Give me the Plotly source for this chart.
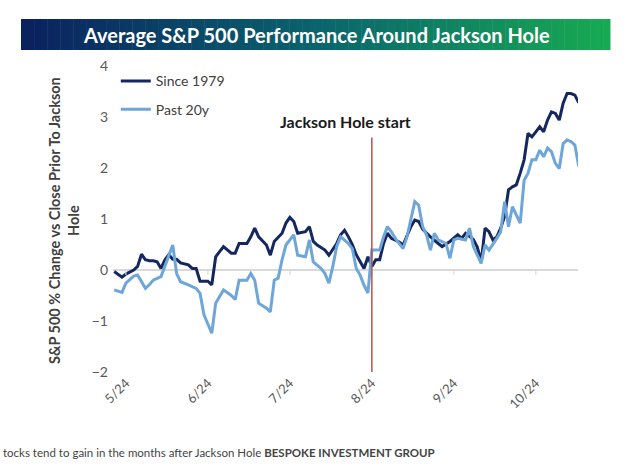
import plotly.graph_objects as go

# ---- data (trading days relative to Jackson Hole start, % change) ----
since1979_days = [-66, -64, -63, -61, -60, -59, -58, -57, -56, -55, -54, -53, -52, -51, -50, -49, -47, -46, -45, -44,
                  -42, -41, -40, -38, -36, -35, -34, -32, -31, -30, -29, -27, -26, -25, -23, -22, -21, -20, -19, -17,
                  -16, -15, -14, -12, -11, -9, -8, -7, -6, -5, -4, -3, -2, -1, 0, 1, 2, 3, 4, 5,
                  6, 7, 8, 9, 10, 11, 12, 13, 14, 15, 17, 18, 20, 22, 23, 24, 26, 27, 28, 29,
                  30, 31, 32, 33, 34, 35, 36, 37, 38, 39, 40, 41, 42, 43, 44, 45, 46, 47, 48, 49,
                  50, 51, 52, 53]
since1979_vals = [-0.03, -0.14, -0.08, 0.0, 0.07, 0.31, 0.2, 0.18, 0.18, 0.16, 0.03, 0.2, 0.3, 0.21, 0.21, 0.14, 0.1, 0.03, 0.03, -0.22,
                  -0.22, -0.29, 0.26, 0.46, 0.33, 0.33, 0.52, 0.52, 0.65, 0.82, 0.65, 0.49, 0.29, 0.56, 0.72, 0.92, 1.03, 0.95, 0.72, 0.75,
                  0.85, 0.56, 0.49, 0.39, 0.29, 0.52, 0.69, 0.78, 0.65, 0.5, 0.3, 0.15, 0.03, 0.26, 0.07, 0.2, 0.2, 0.52, 0.72, 0.62,
                  0.59, 0.55, 0.49, 0.69, 0.85, 0.98, 0.95, 0.8, 0.72, 0.65, 0.52, 0.46, 0.56, 0.69, 0.62, 0.72, 0.6, 0.45, 0.16, 0.82,
                  0.75, 0.59, 0.65, 0.82, 1.05, 1.57, 1.63, 1.67, 1.9, 2.16, 2.68, 2.61, 2.71, 2.81, 2.71, 2.94, 3.1, 3.07, 2.94, 3.27,
                  3.46, 3.46, 3.43, 3.28]

past20_days = [-66, -64, -63, -61, -60, -58, -57, -56, -54, -53, -51, -50, -49, -47, -45, -44, -43, -41, -40, -38,
               -36, -35, -34, -32, -31, -30, -29, -27, -26, -25, -24, -23, -22, -20, -19, -17, -16, -15, -13, -12,
               -11, -10, -9, -8, -6, -5, -4, -3, -2, -1, 0, 2, 3, 4, 5, 6, 8, 9, 11, 12,
               13, 14, 15, 16, 17, 19, 20, 21, 22, 24, 25, 26, 28, 29, 30, 32, 33, 34, 35, 36,
               37, 38, 39, 40, 41, 42, 43, 44, 45, 46, 47, 48, 49, 50, 51, 52, 53]
past20_vals = [-0.39, -0.44, -0.26, -0.12, -0.1, -0.36, -0.29, -0.2, -0.13, 0.07, 0.49, -0.07, -0.23, -0.29, -0.36, -0.46, -0.88, -1.24, -0.65, -0.39,
               -0.5, -0.58, -0.2, -0.2, -0.07, -0.2, -0.65, -0.75, -0.82, -0.2, -0.16, 0.2, 0.49, 0.69, 0.29, 0.26, 0.59, 0.16, 0.03, -0.07,
               -0.26, 0.07, 0.46, 0.65, 0.52, 0.42, 0.03, -0.1, -0.3, -0.45, 0.39, 0.39, 0.65, 0.85, 0.75, 0.62, 0.42, 0.65, 1.34, 1.27,
               0.85, 0.69, 0.39, 0.72, 0.59, 0.52, 0.23, 0.59, 0.62, 0.59, 0.82, 0.46, 0.13, 0.49, 0.39, 0.62, 0.75, 1.34, 0.85, 1.24,
               1.08, 0.92, 1.76, 1.9, 2.16, 2.16, 2.35, 2.22, 2.39, 2.32, 2.09, 1.99, 2.48, 2.55, 2.52, 2.45, 2.03]

tick_days = [-63, -42, -21, 0, 21, 42]
tick_labels = ["5/24", "6/24", "7/24", "8/24", "9/24", "10/24"]
event_day = 0
event_label = "Jackson Hole start"

FONT = "Lato"
DARK = "#14275e"
LIGHT = "#6ea6d9"

L, R, T, B = 113, 52, 66, 99
PW, PH = 630 - L - R, 471 - T - B


def px(x):
    return (x - L) / PW


def py(y):
    return 1 - (y - T) / PH


fig = go.Figure()
fig.add_trace(go.Scatter(x=since1979_days, y=since1979_vals, mode="lines", name="Since 1979",
                         legendgroup="a", line=dict(color=DARK, width=3)))
fig.add_trace(go.Scatter(x=past20_days, y=past20_vals, mode="lines", name="Past 20y",
                         legendgroup="b", line=dict(color=LIGHT, width=3)))

shapes = []
# gradient title banner
n = 90
x0p, x1p = px(21), px(610)
c0 = (11, 34, 96)
cm = (10, 100, 110)
c1 = (24, 170, 82)
for i in range(n):
    t = i / (n - 1)
    if t < 0.5:
        a, b, u = c0, cm, t / 0.5
    else:
        a, b, u = cm, c1, (t - 0.5) / 0.5
    col = "rgb(%d,%d,%d)" % tuple(int(a[k] + (b[k] - a[k]) * u) for k in range(3))
    xa = x0p + (x1p - x0p) * i / n
    xb = x0p + (x1p - x0p) * (i + 1) / n + 0.001
    shapes.append(dict(type="rect", xref="paper", yref="paper", x0=xa, x1=xb,
                       y0=py(50), y1=py(19),
                       fillcolor=col, line=dict(width=0), layer="below"))
# tick marks on zero axis
for d in tick_days:
    shapes.append(dict(type="line", xref="x", yref="y", x0=d, x1=d, y0=0, y1=-0.1,
                       line=dict(color="#d9d9d9", width=1.2)))
# event line
shapes.append(dict(type="line", xref="x", yref="y", x0=event_day, x1=event_day, y0=2.6, y1=-2,
                   line=dict(color="#b5524a", width=1.5)))

fig.update_layout(
    width=630, height=471,
    margin=dict(l=L, r=R, t=T, b=B),
    paper_bgcolor="white", plot_bgcolor="white",
    font=dict(family=FONT, color="#595959", size=14),
    shapes=shapes,
    showlegend=True,
    legend=dict(x=0.006, y=1.002, xanchor="left", yanchor="top", bgcolor="rgba(0,0,0,0)",
                font=dict(size=14, color="#404040"), traceorder="grouped", tracegroupgap=7,
                itemwidth=30),
    xaxis=dict(range=[-66.3, 52.8], tickmode="array", tickvals=tick_days, ticktext=tick_labels,
               tickangle=-45, showgrid=False, zeroline=False, showline=False, ticks="",
               tickfont=dict(size=13, color="#595959")),
    yaxis=dict(range=[-2, 4], tickvals=[-2, -1, 0, 1, 2, 3, 4], showgrid=False,
               zeroline=True, zerolinecolor="#d9d9d9", zerolinewidth=1.5, showline=False,
               ticks="", ticklabelstandoff=4, tickfont=dict(size=14, color="#595959")),
    annotations=[
        dict(text="<b>Average S&P 500 Performance Around Jackson Hole</b>", xref="paper", yref="paper",
             x=px(316), y=py(35), xanchor="center", yanchor="middle",
             showarrow=False, font=dict(family=FONT, size=20, color="white")),
        dict(text="<b>S&P 500 % Change vs Close Prior To Jackson<br>Hole</b>", xref="paper", yref="paper",
             x=px(64), y=py(221), xanchor="center", yanchor="middle", textangle=-90,
             showarrow=False, font=dict(family=FONT, size=14.5, color="#404040")),
        dict(text="<b>" + event_label + "</b>", xref="paper", yref="paper",
             x=px(345), y=py(121), xanchor="center", yanchor="middle",
             showarrow=False, font=dict(family=FONT, size=16, color="#1a1a1a")),
        dict(text="tocks tend to gain in the months after Jackson Hole <b>BESPOKE INVESTMENT GROUP</b>",
             xref="paper", yref="paper", x=px(1), y=py(452),
             xanchor="left", yanchor="middle", showarrow=False,
             font=dict(family=FONT, size=11.5, color="#444444")),
    ],
)

fig.write_html("out.html", config={"displayModeBar": False},
               post_script="document.body.style.margin='0';")
